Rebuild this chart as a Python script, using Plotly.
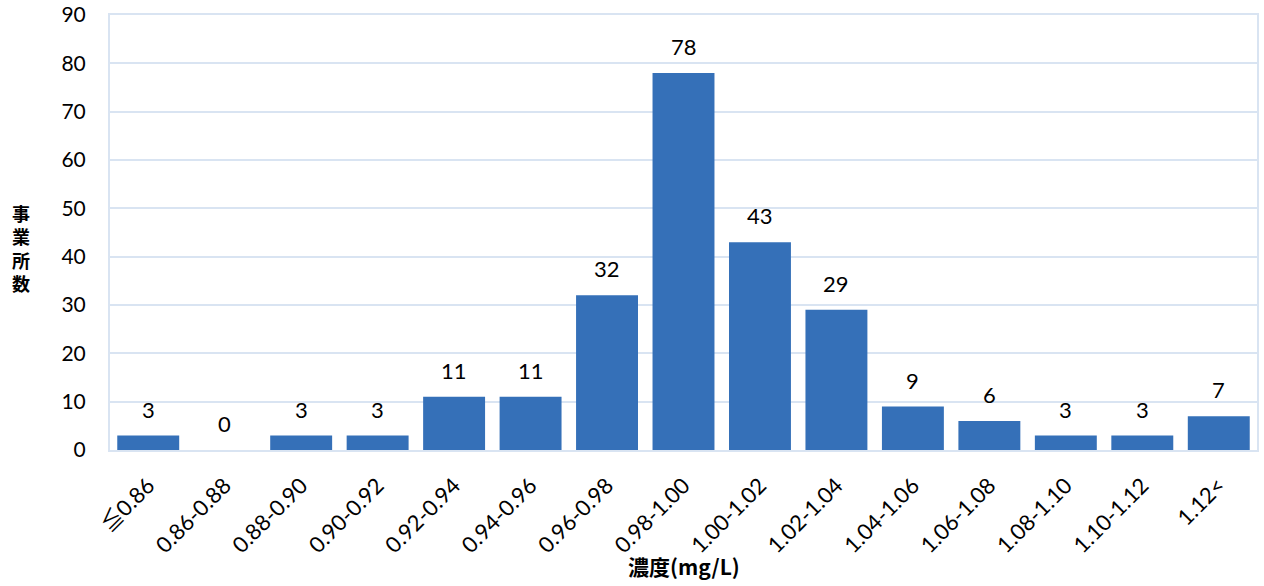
import plotly.graph_objects as go

categories = ["≦0.86", "0.86-0.88", "0.88-0.90", "0.90-0.92", "0.92-0.94", "0.94-0.96",
              "0.96-0.98", "0.98-1.00", "1.00-1.02", "1.02-1.04", "1.04-1.06", "1.06-1.08",
              "1.08-1.10", "1.10-1.12", "1.12<"]
counts = [3, 0, 3, 3, 11, 11, 32, 78, 43, 29, 9, 6, 3, 3, 7]
y_ticks = [0, 10, 20, 30, 40, 50, 60, 70, 80, 90]
y_title_chars = ["事", "業", "所", "数"]

FONT = "Lato, 'Noto Sans CJK JP', sans-serif"
JP = "'Noto Sans CJK JP', sans-serif"
GRID = "#d9e4f2"

fig = go.Figure()
fig.add_trace(go.Bar(
    x=categories, y=counts,
    marker=dict(color="#3570b8", line=dict(width=0)),
    hoverinfo="x+y",
))

for c, v in zip(categories, counts):
    fig.add_annotation(x=c, y=v, text=str(v), showarrow=False, yanchor="bottom",
                       yshift=11, font=dict(size=22, color="#000000", family=FONT))

# vertical stacked y-axis title
fig.add_annotation(xref="paper", yref="paper", x=0, y=0.5, xanchor="center", yanchor="middle",
                   xshift=-89, yshift=-15,
                   text="<b>" + "<br>".join(y_title_chars) + "</b>", showarrow=False,
                   font=dict(size=18, color="#000000", family=JP))

fig.add_annotation(xref="paper", yref="paper", x=0.5, y=0, xanchor="center", yanchor="middle",
                   yshift=-116, text="<b>濃度(mg/L)</b>", showarrow=False,
                   font=dict(size=21, color="#000000", family=JP))

fig.update_layout(
    width=1264, height=586,
    margin=dict(l=110, r=7, t=15, b=136),
    paper_bgcolor="white", plot_bgcolor="white",
    bargap=0.19,
    showlegend=False,
    font=dict(family=FONT, color="#000000"),
    xaxis=dict(
        type="category", tickangle=-45, tickfont=dict(size=22, family=FONT, color="#000000"),
        showgrid=False, showline=True, linecolor=GRID, linewidth=2, mirror=True,
        ticks="outside", ticklen=12, tickcolor="rgba(0,0,0,0)", automargin=False,
    ),
    yaxis=dict(
        range=[0, 90], tickvals=y_ticks, tickfont=dict(size=21, family=FONT, color="#000000"),
        showgrid=True, gridcolor=GRID, gridwidth=2, zeroline=False,
        showline=True, linecolor=GRID, linewidth=2, mirror=True,
        ticks="outside", ticklen=18, tickcolor="rgba(0,0,0,0)", automargin=False,
        ticklabeloverflow="allow",
    ),
)

fig.write_html("out.html", config={"displayModeBar": False},
               post_script="document.body.style.margin='0';")
